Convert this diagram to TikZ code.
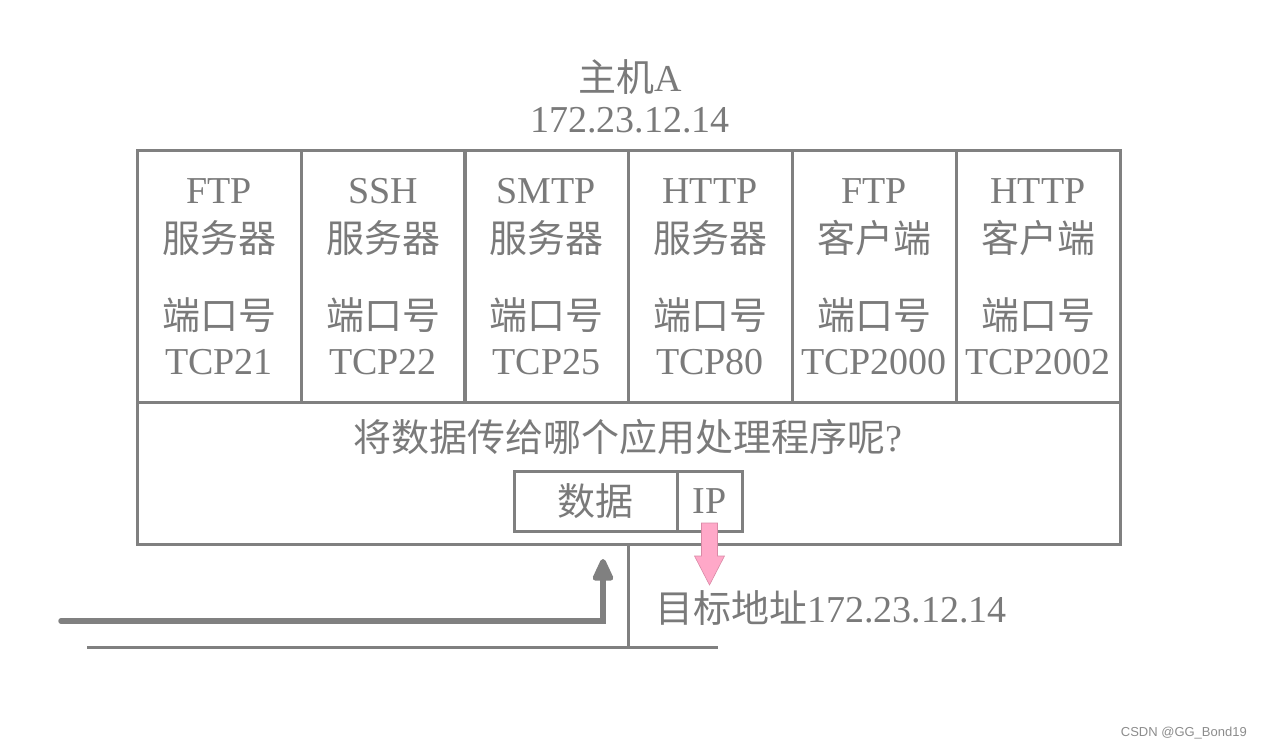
\documentclass[tikz,border=0pt]{standalone}
\usepackage{fontspec}
\setmainfont{Liberation Serif}
\newfontfamily\cjk{Noto Sans CJK SC}
\newfontfamily\wmfont{Liberation Sans}
\usetikzlibrary{arrows.meta}
\definecolor{lg}{HTML}{808080}
\definecolor{tg}{HTML}{7A7A7A}
\definecolor{pk}{HTML}{FFA8C8}
\definecolor{pkd}{HTML}{D98AA6}
\begin{document}
\begin{tikzpicture}[x=1pt,y=-1pt,
  frame/.style={draw=lg,line width=3pt,inner sep=0pt,outer sep=0pt},
  txt/.style={text=tg,inner sep=0pt,font=\fontsize{38}{44}\selectfont},
  wire/.style={draw=lg,line width=3pt},
  bigarrow/.style={draw=lg,line width=5.5pt,line cap=round,-{Triangle[width=22pt,length=26pt,round]}},
  pinkarrow/.style={fill=pk,draw=pkd,line width=0.6pt}]
\useasboundingbox (0,0) rectangle (1262,751);
% title
\node[txt] (title) at (630,77) {{\cjk 主机}A};
\node[txt] (titleip) at (630,120) {172.23.12.14};
% outer box
\node[frame,minimum width=983pt,minimum height=393pt] (host) at (628.5,347.5) {};
% cells
\foreach \i/\cx/\a/\b/\p in {1/219/FTP/服务器/TCP21,2/383/SSH/服务器/TCP22,3/546.5/SMTP/服务器/TCP25,4/710/HTTP/服务器/TCP80,5/874/FTP/客户端/TCP2000,6/1038/HTTP/客户端/TCP2002}{
  \node[frame,minimum width=164pt,minimum height=252pt] (cell\i) at (\cx,277) {};
  \node[txt] (name\i) at (\cx,191) {\a};
  \node[txt] (kind\i) at (\cx,238) {\cjk \b};
  \node[txt] (port\i) at (\cx,315) {\cjk 端口号};
  \node[txt] (num\i) at (\cx,362) {\p};
}
% question
\node[txt] (question) at (628,437) {{\cjk 将数据传给哪个应用处理程序呢}?};
% packet
\node[frame,minimum width=163pt,minimum height=60pt] (data) at (595.5,501) {};
\node[txt] at (data.center) (datatxt) {\cjk 数据};
\node[frame,minimum width=65pt,minimum height=60pt] (ip) at (709.5,501) {};
\node[txt] at (ip.center) (iptxt) {IP};
% network
\coordinate (tap) at (628,544);
\coordinate (busL) at (87,647);
\coordinate (busR) at (718,647);
\coordinate (busT) at (628,647);
\draw[wire] (busL) -- (busR);
\draw[wire] (tap) -- (busT);
\coordinate (inS) at (61,621);
\coordinate (inC) at (603,621);
\coordinate (inE) at (603,559);
\draw[bigarrow] (inS) -- (inC) -- (inE);
% pink arrow
\draw[pinkarrow] ([xshift=-8pt,yshift=8pt]ip.south) -- ([xshift=8pt,yshift=8pt]ip.south)
  -- ([xshift=8pt,yshift=-25pt]ip.south) -- ([xshift=15pt,yshift=-25pt]ip.south)
  -- ([yshift=-54pt]ip.south) -- ([xshift=-15pt,yshift=-25pt]ip.south)
  -- ([xshift=-8pt,yshift=-25pt]ip.south) -- cycle;
\node[txt,anchor=west] (dest) at (655,608) {{\cjk 目标地址}172.23.12.14};
% watermark
\node[anchor=east,inner sep=0pt,text=black!45,font=\wmfont\fontsize{13}{15}\selectfont] (wm) at (1247,733) {CSDN @GG\_Bond19};
\end{tikzpicture}
\end{document}
